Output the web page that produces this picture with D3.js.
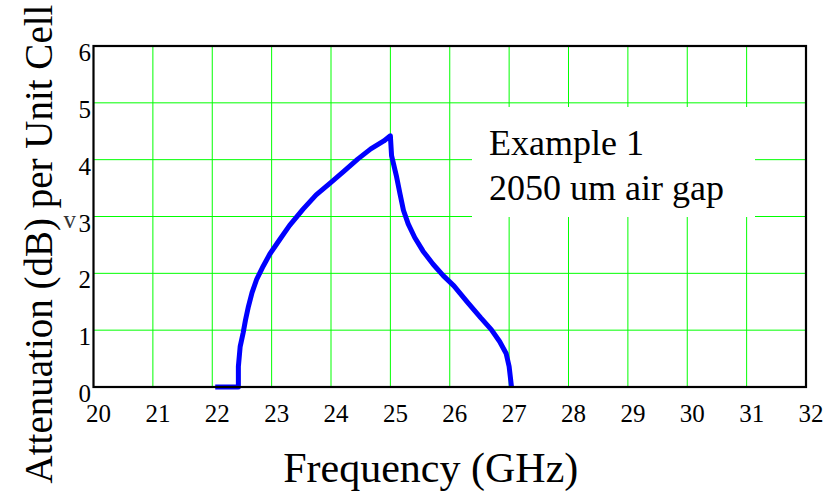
<!DOCTYPE html>
<html>
<head>
<meta charset="utf-8">
<script src="https://cdn.jsdelivr.net/npm/d3@7"></script>
<style>
  html, body { margin: 0; padding: 0; background: #fff; }
  svg { display: block; font-family: "Liberation Serif", "Times New Roman", serif; }
</style>
</head>
<body>
<svg id="chart" width="825" height="491"></svg>
<script>
// Attenuation per unit cell versus frequency (2050 um air gap)
const frequency = [22.05, 22.44, 22.44, 22.47, 22.52, 22.56, 22.61, 22.67, 22.75, 22.86,
                   22.97, 23.14, 23.3, 23.53, 23.75, 24.0, 24.22, 24.45, 24.67, 24.89,
                   25.0, 25.02, 25.1, 25.16, 25.22, 25.3, 25.41, 25.55, 25.72, 25.89,
                   26.07, 26.3, 26.52, 26.7, 26.84, 26.95, 27.0, 27.04];
const attenuation = [0, 0, 0.36, 0.71, 0.95, 1.18, 1.42, 1.66, 1.9, 2.13,
                     2.34, 2.6, 2.84, 3.13, 3.38, 3.6, 3.8, 4.01, 4.19, 4.33,
                     4.42, 4.07, 3.72, 3.41, 3.11, 2.87, 2.63, 2.39, 2.16, 1.96,
                     1.78, 1.49, 1.22, 1.01, 0.8, 0.59, 0.36, 0];
const xTicks = [20, 21, 22, 23, 24, 25, 26, 27, 28, 29, 30, 31, 32];
const yTicks = [0, 1, 2, 3, 4, 5, 6];
const noteLines = ["Example 1", "2050 um air gap"];

const svg = d3.select("#chart");
const plot = { left: 93.5, right: 806, top: 46, bottom: 387 };

const x = d3.scaleLinear().domain([20, 32]).range([plot.left, plot.right]);
const y = d3.scaleLinear().domain([0, 6]).range([plot.bottom, plot.top]);

// grid
const grid = svg.append("g").attr("stroke", "#00ff00").attr("stroke-width", 1);
grid.selectAll("line.v").data(xTicks.slice(1, -1)).join("line")
  .attr("x1", d => x(d)).attr("x2", d => x(d))
  .attr("y1", plot.top).attr("y2", plot.bottom);
grid.selectAll("line.h").data(yTicks.slice(1, -1)).join("line")
  .attr("x1", plot.left).attr("x2", plot.right)
  .attr("y1", d => y(d)).attr("y2", d => y(d));

// note box (white background hides grid underneath)
svg.append("rect")
  .attr("x", 472).attr("y", 107).attr("width", 283).attr("height", 110)
  .attr("fill", "#fff");
svg.append("g").selectAll("text").data(noteLines).join("text")
  .attr("x", 489).attr("y", (d, i) => 155 + i * 45)
  .attr("font-size", 36).attr("fill", "#000")
  .text(d => d);

// curve
const line = d3.line().x(d => x(d[0])).y(d => y(d[1]));
svg.append("path")
  .datum(d3.zip(frequency, attenuation))
  .attr("d", line)
  .attr("fill", "none")
  .attr("stroke", "#0000ff")
  .attr("stroke-width", 5)
  .attr("stroke-linejoin", "round");

// frame
svg.append("rect")
  .attr("x", plot.left).attr("y", plot.top)
  .attr("width", plot.right - plot.left).attr("height", plot.bottom - plot.top)
  .attr("fill", "none").attr("stroke", "#000").attr("stroke-width", 2.2);

// tick labels
svg.append("g").selectAll("text").data(xTicks).join("text")
  .attr("x", d => x(d) + 5).attr("y", 422)
  .attr("text-anchor", "middle").attr("font-size", 25)
  .text(d => d);
svg.append("g").selectAll("text").data(yTicks).join("text")
  .attr("x", 91).attr("y", d => y(d) + 15)
  .attr("text-anchor", "end").attr("font-size", 25)
  .text(d => d);
svg.append("text")
  .attr("x", 76).attr("y", 228)
  .attr("text-anchor", "end").attr("font-size", 25).attr("fill", "#333")
  .text("v");

// axis titles
svg.append("text")
  .attr("x", (plot.left + plot.right) / 2 - 19).attr("y", 482)
  .attr("text-anchor", "middle").attr("font-size", 42)
  .text("Frequency (GHz)");
svg.append("text")
  .attr("transform", "translate(52,244) rotate(-90)")
  .attr("text-anchor", "middle").attr("font-size", 39)
  .text("Attenuation (dB) per Unit Cell");
</script>
</body>
</html>
